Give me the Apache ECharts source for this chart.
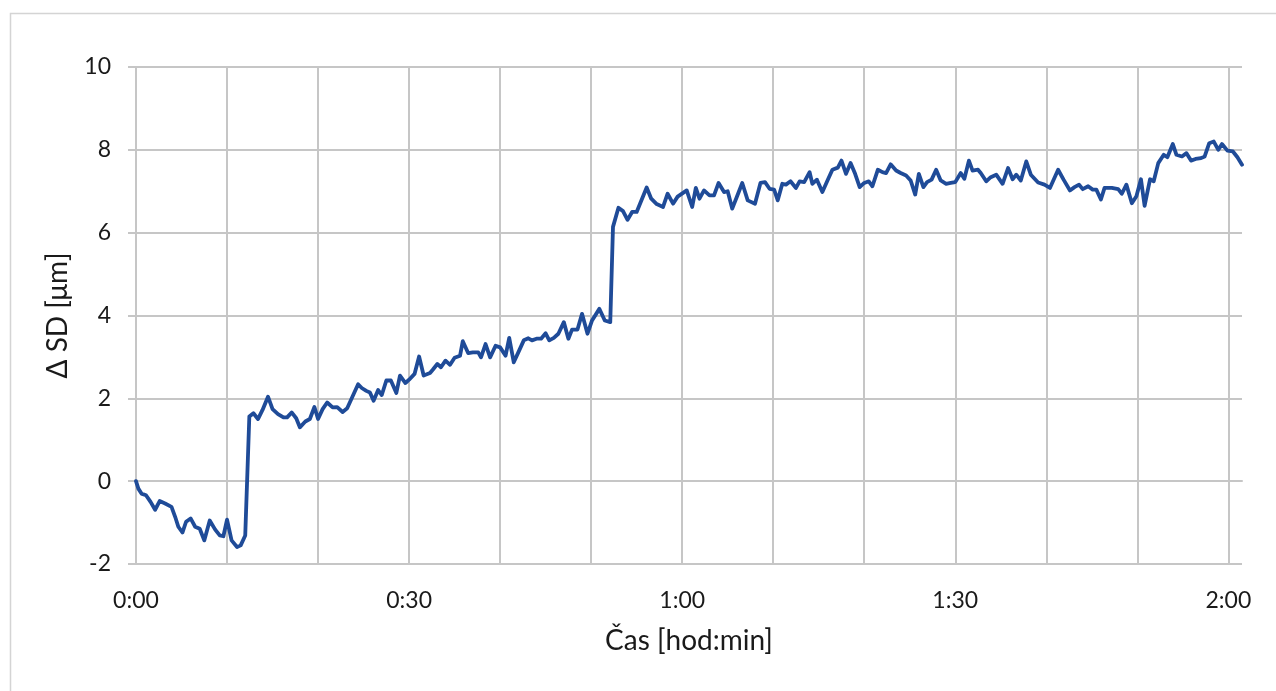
<!DOCTYPE html>
<html>
<head>
<meta charset="utf-8">
<style>
  html, body { margin: 0; padding: 0; background: #ffffff; }
  #chart { width: 1276px; height: 691px; }
</style>
<script src="https://cdn.jsdelivr.net/npm/echarts@6/dist/echarts.min.js"></script>
</head>
<body>
<div id="chart"></div>
<script>
// Elapsed time in minutes since start of measurement
const minutes = [
  0, 0.26, 0.6, 1.1, 1.6, 2.1, 2.6, 3.2, 3.9, 4.3, 4.65, 5.1, 5.5, 6.0, 6.5, 7.0, 7.5, 8.1, 8.7, 9.2, 9.6,
  10.0, 10.5, 11.1, 11.5, 12.0, 12.45, 12.9, 13.4, 13.9, 14.5, 15.0, 15.6, 16.2, 16.6, 17.1, 17.6, 18.0, 18.6, 19.1, 19.6,
  20.0, 20.5, 21.0, 21.6, 22.1, 22.7, 23.2, 23.7, 24.4, 24.8, 25.3, 25.7, 26.1, 26.6, 27.0, 27.5, 28.0, 28.6, 29.0, 29.6,
  30.0, 30.6, 31.1, 31.6, 32.3, 32.6, 33.1, 33.5, 34.0, 34.5, 35.0, 35.6, 35.9, 36.5, 37.0, 37.6, 37.9, 38.4, 38.9, 39.5,
  40.0, 40.6, 41.0, 41.5, 42.0, 42.6, 43.1, 43.5, 44.0, 44.5, 45.0, 45.4, 45.9, 46.4, 47.0, 47.5, 47.9, 48.5, 49.0, 49.6,
  50.1, 50.9, 51.5, 52.1, 52.4, 53.0, 53.5, 54.0, 54.5, 55.0, 56.1, 56.6, 57.2, 57.9, 58.4, 59.0, 59.5,
  60.5, 61.1, 61.5, 61.9, 62.4, 63.0, 63.5, 64.0, 64.6, 65.0, 65.5, 66.0, 66.6, 67.2, 68.0, 68.6, 69.1, 69.6,
  70.1, 70.5, 71.0, 71.4, 71.9, 72.5, 72.9, 73.4, 74.0, 74.3, 74.8, 75.4, 76.0, 76.5, 77.1, 77.5, 78.0, 78.5, 79.0, 79.5,
  80.0, 80.5, 80.9, 81.5, 82.0, 82.4, 82.9, 83.5, 84.0, 84.6, 85.1, 85.6, 86.0, 86.5, 86.9, 87.4, 87.9, 88.4, 89.0, 89.5,
  90.0, 90.6, 91.0, 91.5, 91.9, 92.5, 92.8, 93.4, 93.9, 94.5, 95.2, 95.8, 96.3, 96.7, 97.2, 97.8, 98.3, 99.1, 99.8,
  100.4, 101.3, 101.9, 102.6, 103.1, 103.6, 104.0, 104.6, 105.1, 105.5, 106.0, 106.4, 107.2, 107.9, 108.3, 108.8, 109.4, 109.9,
  110.4, 110.8, 111.4, 111.8, 112.3, 112.9, 113.3, 113.9, 114.3, 114.9, 115.4, 115.9, 116.4, 117.0, 117.4, 117.9, 118.4, 118.9, 119.3, 119.9,
  120.5, 121.0, 121.5
];

// Change of SD in micrometres at each sample
const deltaSD = [
  0, -0.18, -0.3, -0.34, -0.5, -0.69, -0.48, -0.54, -0.62, -0.86, -1.1, -1.24, -0.98, -0.9, -1.1, -1.15, -1.43, -0.95, -1.17, -1.31, -1.33,
  -0.93, -1.43, -1.59, -1.55, -1.31, 1.56, 1.64, 1.5, 1.72, 2.04, 1.74, 1.62, 1.54, 1.54, 1.66, 1.52, 1.3, 1.44, 1.5, 1.79,
  1.5, 1.74, 1.9, 1.78, 1.79, 1.67, 1.76, 2.0, 2.34, 2.25, 2.18, 2.14, 1.94, 2.2, 2.08, 2.43, 2.43, 2.13, 2.55, 2.37,
  2.45, 2.59, 3.01, 2.55, 2.61, 2.69, 2.83, 2.75, 2.91, 2.81, 2.98, 3.03, 3.38, 3.09, 3.11, 3.11, 2.99, 3.31, 2.99, 3.27,
  3.23, 3.03, 3.46, 2.87, 3.11, 3.4, 3.45, 3.4, 3.44, 3.44, 3.57, 3.4, 3.46, 3.56, 3.84, 3.44, 3.66, 3.66, 4.04, 3.56,
  3.88, 4.16, 3.88, 3.84, 6.14, 6.6, 6.52, 6.31, 6.5, 6.5, 7.09, 6.82, 6.69, 6.62, 6.94, 6.7, 6.87,
  7.02, 6.62, 7.08, 6.82, 7.02, 6.9, 6.9, 7.2, 6.98, 7.0, 6.58, 6.86, 7.2, 6.78, 6.7, 7.2, 7.22, 7.06,
  7.04, 6.78, 7.18, 7.16, 7.24, 7.08, 7.24, 7.22, 7.46, 7.18, 7.28, 6.98, 7.28, 7.52, 7.57, 7.74, 7.42, 7.68, 7.42, 7.1,
  7.2, 7.24, 7.12, 7.52, 7.46, 7.44, 7.65, 7.5, 7.44, 7.38, 7.26, 6.92, 7.42, 7.1, 7.22, 7.28, 7.52, 7.26, 7.18, 7.2,
  7.22, 7.44, 7.3, 7.74, 7.5, 7.52, 7.44, 7.24, 7.34, 7.4, 7.18, 7.56, 7.29, 7.4, 7.26, 7.72, 7.4, 7.21, 7.16,
  7.08, 7.52, 7.28, 7.02, 7.1, 7.16, 7.05, 7.12, 7.04, 7.04, 6.8, 7.08, 7.08, 7.05, 6.94, 7.16, 6.71, 6.88,
  7.29, 6.65, 7.29, 7.24, 7.68, 7.88, 7.82, 8.14, 7.88, 7.84, 7.92, 7.74, 7.78, 7.8, 7.84, 8.16, 8.2, 8.0, 8.14, 7.98,
  7.96, 7.82, 7.64
];

// Time axis: ticks every 10 minutes, labels every 30 minutes
const xTickMinutes = [0, 10, 20, 30, 40, 50, 60, 70, 80, 90, 100, 110, 120];
const xLabelMinutes = [0, 30, 60, 90, 120];
const xLabelTexts = ['0:00', '0:30', '1:00', '1:30', '2:00'];

const gridColor = '#c6c6c6';
const textColor = '#1a1a1a';
const fontFamily = 'Lato, "Open Sans", sans-serif';

const chart = echarts.init(document.getElementById('chart'), null, { renderer: 'canvas' });

chart.setOption({
  animation: false,
  backgroundColor: '#ffffff',
  graphic: [{
    type: 'rect',
    silent: true,
    shape: { x: 10.5, y: 13.5, width: 1300, height: 720 },
    style: { fill: 'none', stroke: '#d4d4d4', lineWidth: 1.5 }
  }],
  grid: { left: 136, top: 67, right: 34, bottom: 127, containLabel: false },
  xAxis: {
    type: 'value',
    min: 0,
    max: minutes[minutes.length - 1],
    name: 'Čas [hod:min]',
    nameLocation: 'middle',
    nameGap: 63,
    nameTextStyle: { fontFamily, fontSize: 28, color: textColor },
    axisLine: { show: true, lineStyle: { color: gridColor, width: 2 } },
    axisTick: {
      show: true, inside: false, length: 8,
      customValues: xTickMinutes,
      lineStyle: { color: gridColor, width: 2 }
    },
    axisLabel: {
      customValues: xLabelMinutes,
      margin: 25,
      fontFamily, fontSize: 23, color: textColor,
      formatter: (v) => {
        const i = xLabelMinutes.indexOf(Math.round(v));
        return i >= 0 ? xLabelTexts[i] : '';
      }
    },
    splitLine: { show: true, lineStyle: { color: gridColor, width: 2 } }
  },
  yAxis: {
    type: 'value',
    min: -2,
    max: 10,
    interval: 2,
    name: 'Δ SD [μm]',
    nameLocation: 'middle',
    nameGap: 64,
    nameRotate: 90,
    nameTextStyle: { fontFamily, fontSize: 28, color: textColor },
    axisLine: { show: true, lineStyle: { color: gridColor, width: 2 } },
    axisTick: { show: true, inside: false, length: 8, lineStyle: { color: gridColor, width: 2 } },
    axisLabel: { margin: 25, fontFamily, fontSize: 23, color: textColor },
    splitLine: { show: true, lineStyle: { color: gridColor, width: 2 } }
  },
  series: [{
    type: 'line',
    data: minutes.map((m, i) => [m, deltaSD[i]]),
    showSymbol: false,
    symbol: 'none',
    smooth: false,
    lineStyle: { color: '#1f4b98', width: 3.8, join: 'round', cap: 'round' },
    z: 5
  }]
});
</script>
</body>
</html>
